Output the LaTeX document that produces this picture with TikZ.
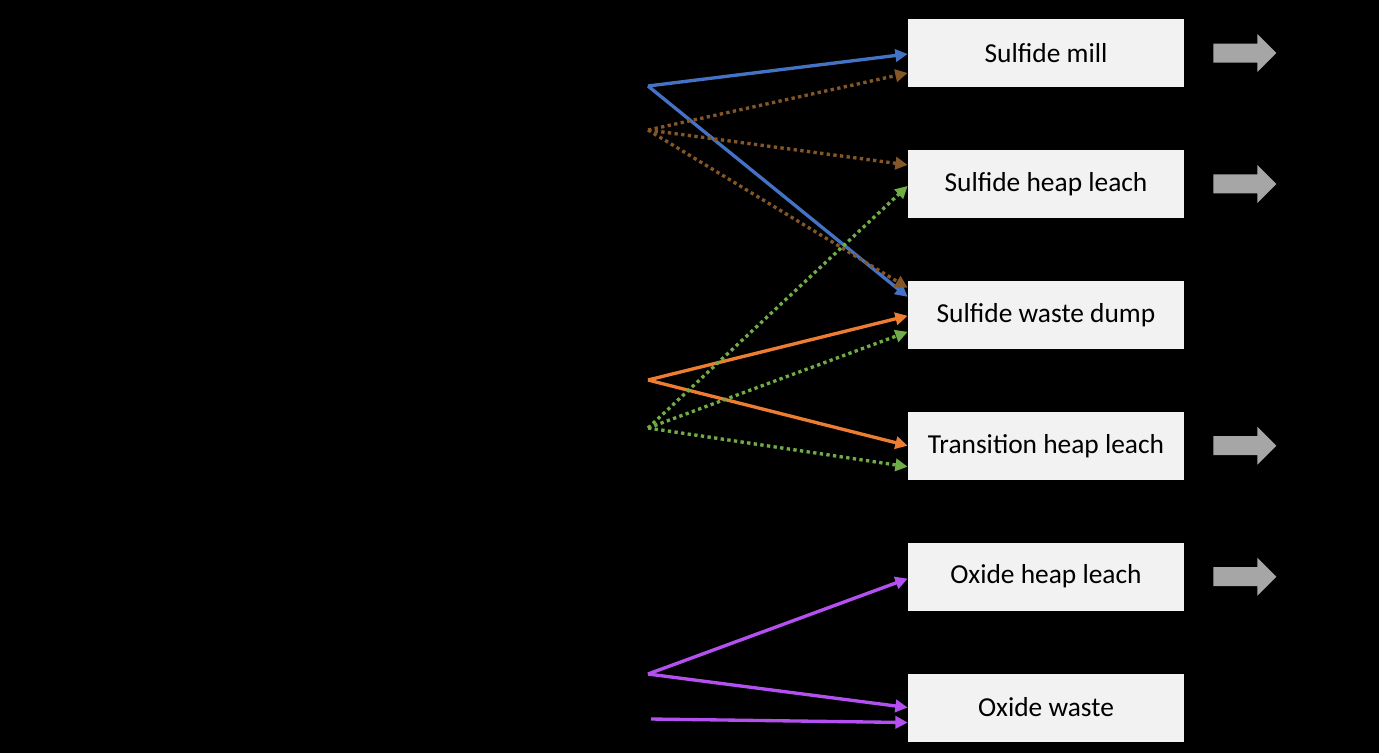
\documentclass[tikz,border=0pt]{standalone}
\usepackage{fontspec}
\setmainfont{Carlito}
\usepackage{tikz}
\usetikzlibrary{arrows.meta,positioning}
\definecolor{boxgray}{HTML}{F2F2F2}
\definecolor{outgray}{HTML}{A6A6A6}
\definecolor{cblue}{HTML}{4472C4}
\definecolor{cbrown}{RGB}{133,87,40}
\definecolor{corange}{HTML}{ED7D31}
\definecolor{cgreen}{HTML}{70AD47}
\definecolor{cpurple}{RGB}{180,80,240}

\begin{document}
\begin{tikzpicture}[
  node distance=1.244cm,
  block/.style={rectangle, fill=boxgray, minimum height=1.36cm,
    minimum width=5.52cm, inner sep=0pt, align=center,
    font=\fontsize{15.6}{18}\selectfont},
  arr/.style={-{Triangle[length=7pt,width=7pt]}, line width=1.9pt},
  dotarr/.style={arr, dash pattern=on 1.9pt off 1.9pt},
  outarr/.style={fill=outgray}
]
  \fill[black] (0,0) rectangle (27.58,-15.06);
  \useasboundingbox (0,0) rectangle (27.58,-15.06);
  \node[block] (SMill) at (20.92,-1.06) {Sulfide mill};
  \node[block, below=of SMill] (SHeap) {Sulfide heap leach};
  \node[block, below=of SHeap] (SDump) {Sulfide waste dump};
  \node[block, below=of SDump] (THeap) {Transition heap leach};
  \node[block, below=of THeap] (OHeap) {Oxide heap leach};
  \node[block, below=of OHeap] (OWaste) {Oxide waste};
  %
  \foreach \b in {SMill,SHeap,THeap,OHeap}
    \fill[outarr] ([xshift=0.58cm]\b.east) ++(0,0.19) -- ++(0.88,0)
      -- ++(0,0.19) -- ++(0.38,-0.38) -- ++(-0.38,-0.38) -- ++(0,0.19)
      -- ++(-0.88,0) -- cycle;
  %
  \coordinate (BlueSrc) at (12.96,-1.72);
  \coordinate (BrownSrc) at (12.96,-2.60);
  \coordinate (OrangeSrc) at (12.96,-7.60);
  \coordinate (GreenSrc) at (12.96,-8.56);
  \coordinate (PurpleSrc) at (12.96,-13.48);
  \coordinate (PurpleSrcB) at (13.02,-14.38);
  %
  \draw[arr, cblue] (BlueSrc) -- ([yshift=-0.02cm]SMill.west);
  \draw[arr, cblue] (BlueSrc) -- ([yshift=0.36cm]SDump.west);
  \draw[dotarr, cbrown] (BrownSrc) -- ([yshift=-0.40cm]SMill.west);
  \draw[dotarr, cbrown] (BrownSrc) -- ([yshift=0.38cm]SHeap.west);
  \draw[dotarr, cbrown] (BrownSrc) -- ([yshift=0.54cm]SDump.west);
  \draw[arr, corange] (OrangeSrc) -- ([yshift=-0.02cm]SDump.west);
  \draw[arr, corange] (OrangeSrc) -- (THeap.west);
  \draw[dotarr, cgreen] (GreenSrc) -- ([yshift=-0.04cm]SHeap.west);
  \draw[dotarr, cgreen] (GreenSrc) -- ([yshift=-0.34cm]SDump.west);
  \draw[dotarr, cgreen] (GreenSrc) -- ([yshift=-0.42cm]THeap.west);
  \draw[arr, cpurple] (PurpleSrc) -- ([yshift=-0.04cm]OHeap.west);
  \draw[arr, cpurple] (PurpleSrc) -- (OWaste.west);
  \draw[arr, cpurple] (PurpleSrcB) -- ([yshift=-0.30cm]OWaste.west);
\end{tikzpicture}
\end{document}
